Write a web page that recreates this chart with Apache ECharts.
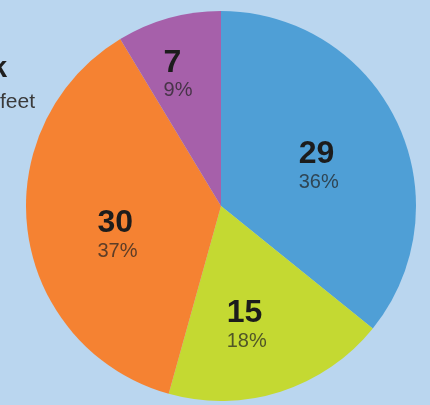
<!DOCTYPE html>
<html>
<head>
<meta charset="utf-8">
<script src="https://cdn.jsdelivr.net/npm/echarts@6/dist/echarts.min.js"></script>
<style>
  html, body { margin: 0; padding: 0; background: #bad6ef; }
  #chart { width: 430px; height: 405px; }
</style>
</head>
<body>
<div id="chart"></div>
<script>
// Slice values, clockwise from 12 o'clock
const categories = ['A', 'B', 'C', 'D'];
const counts = [29, 15, 30, 7];
const shares = ['36%', '18%', '37%', '9%'];
const sliceColors = ['#4f9fd6', '#c4d932', '#f58232', '#a660aa'];
// nudges for the value labels inside each slice
const labelOffsets = [[7, 4], [-5, 24], [-4, 16], [-16, -34]];

const chart = echarts.init(document.getElementById('chart'), null, { renderer: 'canvas' });

const data = categories.map((name, i) => ({
  name,
  value: counts[i],
  itemStyle: { color: sliceColors[i] },
  label: { offset: labelOffsets[i] }
}));

chart.setOption({
  backgroundColor: '#bad6ef',
  animation: false,
  graphic: [
    { type: 'text', left: -9, top: 54,
      style: { text: 'k', font: 'bold 29px "Liberation Sans", Arial, sans-serif', fill: '#1f1f1f' } },
    { type: 'text', left: 0, top: 92,
      style: { text: 'feet', font: '21px "Liberation Sans", Arial, sans-serif', fill: '#3a3a3a' } }
  ],
  series: [{
    type: 'pie',
    center: [221, 206],
    radius: [0, 195],
    startAngle: 90,
    clockwise: true,
    silent: true,
    data,
    itemStyle: { borderWidth: 0 },
    label: {
      show: true,
      position: 'inside',
      formatter: (p) => '{n|' + p.value + '}\n{p|' + shares[p.dataIndex] + '}',
      rich: {
        n: { fontFamily: '"Liberation Sans", Arial, sans-serif', fontWeight: 'bold', fontSize: 32,
             color: '#1c1c1c', lineHeight: 31, align: 'left' },
        p: { fontFamily: '"Liberation Sans", Arial, sans-serif', fontSize: 20,
             color: 'rgba(35,35,35,0.72)', lineHeight: 25, align: 'left' }
      }
    },
    labelLine: { show: false }
  }]
});
</script>
</body>
</html>
